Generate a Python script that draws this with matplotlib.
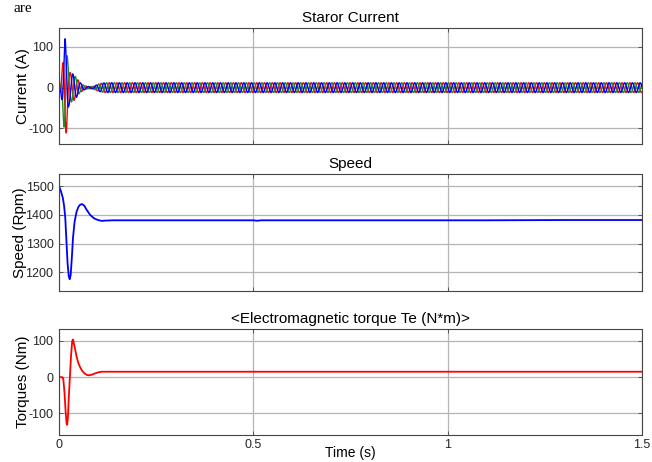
import numpy as np
import matplotlib
matplotlib.use("Agg")
import matplotlib.pyplot as plt

plt.rcParams['font.family'] = ['Liberation Sans', 'DejaVu Sans']

# ---------------- data ----------------
# stator current: envelope of the three phase currents (A)
cur_env_t = [0, 0.004, 0.007, 0.010, 0.013, 0.0155, 0.019, 0.022, 0.025, 0.029,
             0.035, 0.040, 0.045, 0.050, 0.055, 0.060, 0.066, 0.072, 0.080,
             0.088, 0.095, 0.102, 0.110, 0.120, 1.5]
cur_env_a = [0, 8, 30, 65, 100, 120, 110, 70, 45, 36,
             34, 30, 24, 17, 12, 8, 5, 3, 2.5,
             3, 6, 9, 11, 12, 12]
supply_freq = 50.0          # Hz
blue_phase = 2.985          # rad
phase_colors = ['#ff0000', '#1e8c1e', '#0000ff']
phase_shifts = [2 * np.pi / 3, -2 * np.pi / 3, 0.0]

# rotor speed (rpm)
speed_t = [0, 0.005, 0.010, 0.013, 0.016, 0.019, 0.022, 0.025, 0.0275, 0.030,
           0.033, 0.036, 0.040, 0.045, 0.050, 0.055, 0.060, 0.065, 0.070,
           0.080, 0.090, 0.100, 0.110, 0.120, 0.140, 0.30, 0.50, 0.51, 0.52,
           0.80, 1.10, 1.30, 1.50]
speed_v = [1500, 1482, 1458, 1432, 1392, 1312, 1232, 1187, 1176, 1190,
           1250, 1320, 1375, 1410, 1428, 1436, 1437, 1432, 1420,
           1400, 1388, 1382, 1379, 1380, 1381, 1381, 1381, 1379.5, 1381,
           1381, 1381, 1382, 1382]

# electromagnetic torque (N*m)
torque_t = [0, 0.008, 0.011, 0.014, 0.017, 0.0195, 0.021, 0.023, 0.025, 0.028,
            0.031, 0.034, 0.036, 0.040, 0.045, 0.050, 0.055, 0.060, 0.066,
            0.072, 0.078, 0.085, 0.092, 0.100, 0.110, 0.120, 1.5]
torque_v = [0, 0, -5, -40, -95, -128, -132, -110, -60, 0,
            60, 100, 104, 85, 58, 38, 26, 17, 10,
            6, 5, 7, 10, 13, 15, 15, 15]

xticks = [0, 0.5, 1, 1.5]
xticklabels = ['0', '0.5', '1', '1.5']

# ---------------- figure ----------------
fig = plt.figure(figsize=(6.52, 4.62), dpi=100)

axes_rects = [
    [0.0905, 0.6883, 0.894, 0.2510],
    [0.0905, 0.3701, 0.894, 0.2532],
    [0.0905, 0.0584, 0.894, 0.2294],
]
axs = [fig.add_axes(r) for r in axes_rects]

frame_col = '#454545'
text_col = '#262626'
grid_col = '#b5b5b5'

def style(ax, yticks, ylim, title, ylabel, show_xlabels):
    ax.set_xlim(0, 1.5)
    ax.set_ylim(*ylim)
    ax.set_xticks(xticks)
    ax.set_xticklabels(xticklabels if show_xlabels else [])
    ax.set_yticks(yticks)
    ax.set_yticklabels([str(v) for v in yticks])
    ax.grid(True, color=grid_col, linewidth=0.9)
    ax.set_axisbelow(True)
    ax.tick_params(direction='in', top=True, right=True, length=3,
                   width=0.6, colors=frame_col, labelcolor=text_col,
                   labelsize=9, pad=4)
    for s in ax.spines.values():
        s.set_color(frame_col)
        s.set_linewidth(0.8)
    ax.set_title(title, fontsize=11, color='black', pad=4)
    ax.set_ylabel(ylabel, fontsize=11, color='black', labelpad=-1)

# stator current
t = np.arange(0, 1.5 + 1e-9, 0.0002)
env = np.interp(t, cur_env_t, cur_env_a)
for col, sh in zip(phase_colors, phase_shifts):
    axs[0].plot(t, env * np.sin(2 * np.pi * supply_freq * t + blue_phase + sh),
                color=col, linewidth=1.0)
style(axs[0], [-100, 0, 100], (-138, 146), 'Staror Current', 'Current (A)', False)

# speed
axs[1].plot(speed_t, speed_v, color='#0000ff', linewidth=1.3)
style(axs[1], [1200, 1300, 1400, 1500], (1135, 1542), 'Speed', 'Speed (Rpm)', False)

# torque
axs[2].plot(torque_t, torque_v, color='#ff0000', linewidth=1.3)
style(axs[2], [-100, 0, 100], (-160, 133),
      '<Electromagnetic torque Te (N*m)>', 'Torques (Nm)', True)
axs[2].tick_params(axis='x', pad=3)
axs[2].set_xlabel('Time (s)', fontsize=10, color='black', labelpad=-4)

# caption fragment at the top-left of the original image
fig.text(0.021, 0.975, 'are', family=['Liberation Serif', 'DejaVu Serif'],
         fontsize=11, va='baseline', ha='left')

fig.savefig('out.png', dpi=100)
